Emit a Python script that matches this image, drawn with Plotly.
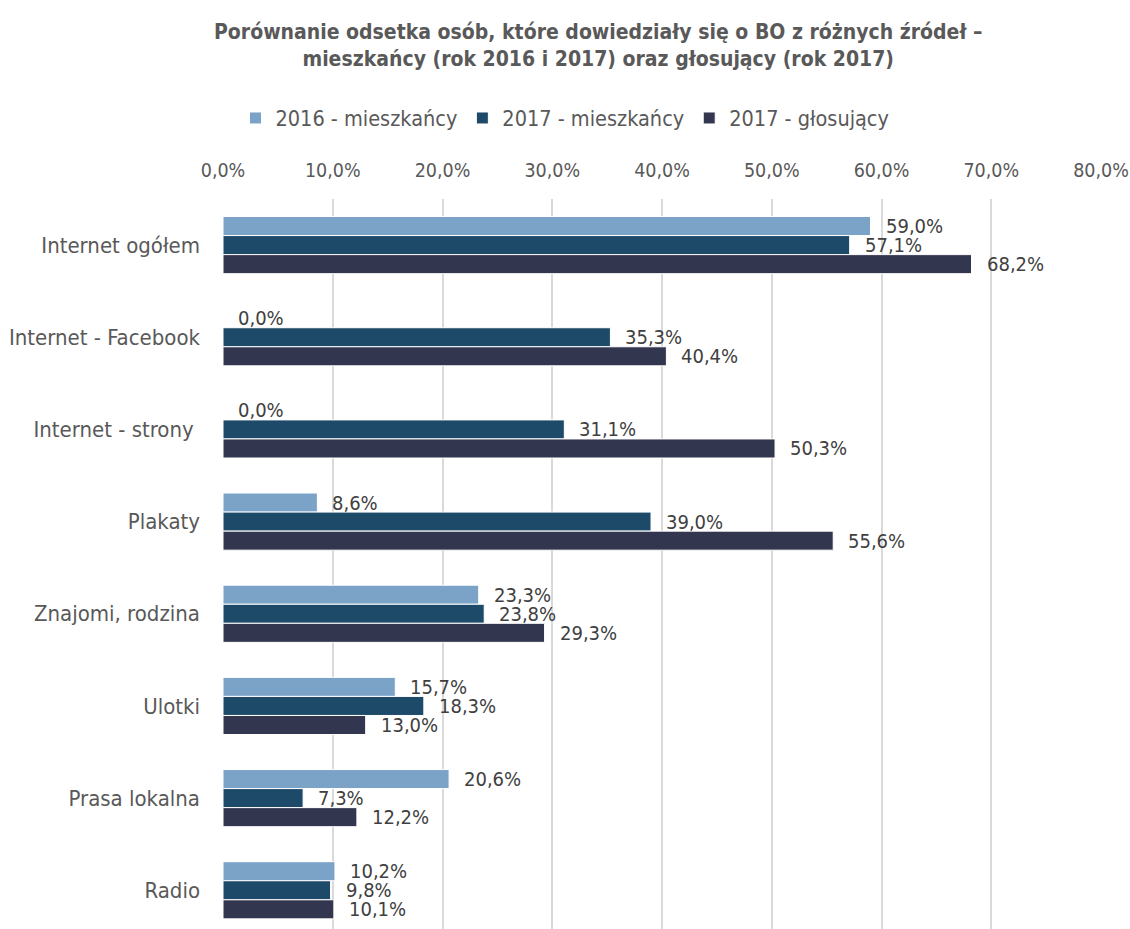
import plotly.graph_objects as go

categories = ["Internet ogółem", "Internet - Facebook", "Internet - strony ", "Plakaty",
              "Znajomi, rodzina", "Ulotki", "Prasa lokalna", "Radio"]
series_names = ["2016 - mieszkańcy", "2017 - mieszkańcy", "2017 - głosujący"]
v2016_mieszkancy = [59.0, 0.0, 0.0, 8.6, 23.3, 15.7, 20.6, 10.2]
v2017_mieszkancy = [57.1, 35.3, 31.1, 39.0, 23.8, 18.3, 7.3, 9.8]
v2017_glosujacy = [68.2, 40.4, 50.3, 55.6, 29.3, 13.0, 12.2, 10.1]
tick_vals = [0, 10, 20, 30, 40, 50, 60, 70, 80]
tick_text = ["0,0%", "10,0%", "20,0%", "30,0%", "40,0%", "50,0%", "60,0%", "70,0%", "80,0%"]

colors = ["#7BA3C7", "#1E4A6A", "#33364F"]
series = [v2016_mieszkancy, v2017_mieszkancy, v2017_glosujacy]
FONT = "DejaVu Sans Condensed, Liberation Sans Narrow, Arial Narrow, sans-serif"

fig = go.Figure()
for name, vals, col in zip(series_names, series, colors):
    fig.add_trace(go.Bar(
        y=categories, x=vals, name=name, orientation="h",
        marker=dict(color=col, line=dict(color="white", width=1)),
    ))

annotations = []
shifts = [19, 0, -19]
for vals, ys in zip(series, shifts):
    for cat, v in zip(categories, vals):
        annotations.append(dict(
            x=v, y=cat, xref="x", yref="y", text=f"{v:.1f}%".replace(".", ","),
            showarrow=False, xanchor="left", yanchor="middle", xshift=13, yshift=ys,
            font=dict(family=FONT, size=20, color="#404040"),
        ))

annotations.append(dict(
    x=(598 - 223) / 878, y=1 + (199 - 45) / 730, xref="paper", yref="paper",
    xanchor="center", yanchor="middle",
    text="<b>Porównanie odsetka osób, które dowiedziały się o BO z różnych źródeł –<br>"
         "mieszkańcy (rok 2016 i 2017) oraz głosujący (rok 2017)</b>",
    showarrow=False, font=dict(family=FONT, size=21, color="#595959"),
))

fig.update_layout(
    width=1130, height=929,
    margin=dict(l=223, r=29, t=199, b=0),
    paper_bgcolor="white", plot_bgcolor="white",
    barmode="group", bargap=0.38, bargroupgap=0,
    separators=", ",
    font=dict(family=FONT, size=20, color="#595959"),
    showlegend=True,
    legend=dict(orientation="h", x=0.5, xref="container", xanchor="center",
                y=1 - 118 / 929, yref="container", yanchor="middle",
                font=dict(family=FONT, size=21.5, color="#595959"),
                itemwidth=30, traceorder="normal"),
    annotations=annotations,
    xaxis=dict(side="top", range=[0, 80], tickvals=tick_vals, ticktext=tick_text,
               showgrid=True, gridcolor="#D9D9D9", gridwidth=2, zeroline=False,
               showline=False, ticks="", ticklen=0, ticklabelstandoff=17,
               tickfont=dict(family=FONT, size=19.5, color="#595959")),
    yaxis=dict(type="category", categoryorder="array", categoryarray=categories,
               range=[7.42, -0.5], showgrid=False, zeroline=False, showline=False,
               ticks="", ticklabelstandoff=22,
               tickfont=dict(family=FONT, size=22, color="#595959")),
)

fig.write_html("out.html")
